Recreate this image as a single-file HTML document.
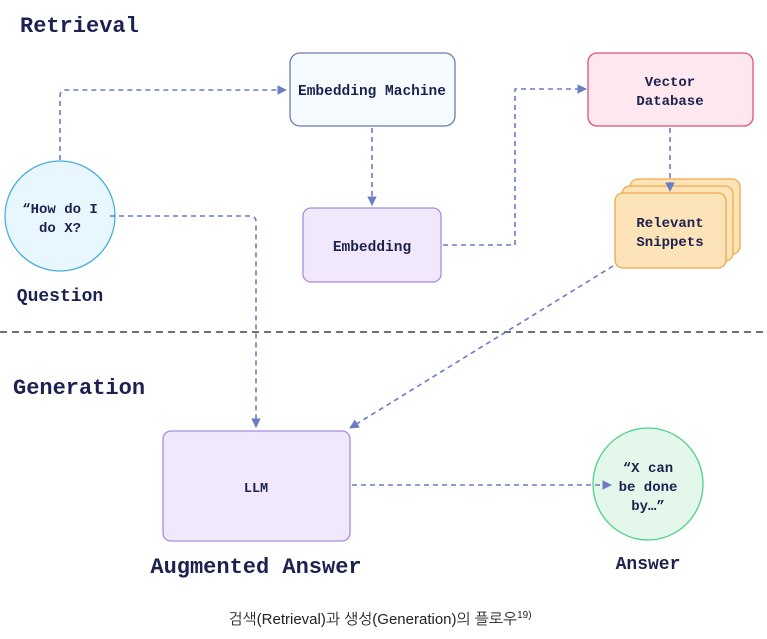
<!DOCTYPE html>
<html><head><meta charset="utf-8"><style>
html,body{margin:0;padding:0;background:#fff;}
svg{display:block;}
.m{font-family:"Liberation Mono","DejaVu Sans Mono",monospace;fill:#1c2150;font-weight:bold;}
</style></head><body>
<svg width="767" height="639" viewBox="0 0 767 639" xmlns="http://www.w3.org/2000/svg">
<defs><marker id="a" viewBox="0 0 10 10" refX="9" refY="5" markerWidth="6" markerHeight="6" markerUnits="strokeWidth" orient="auto"><path d="M0,0L10,5L0,10z" fill="#6a7cc4"/></marker></defs>
<text class="m" x="20" y="32" font-size="22">Retrieval</text>
<text class="m" x="13" y="394" font-size="22">Generation</text>
<line x1="0" y1="332" x2="767" y2="332" stroke="#444" stroke-width="1.5" stroke-dasharray="7,5"/>
<rect x="290" y="53" width="165" height="73" rx="10" fill="#f5fbff" stroke="#6a7ab0" stroke-width="1.3"/>
<text class="m" x="372" y="95" font-size="14.5" text-anchor="middle">Embedding Machine</text>
<rect x="303" y="208" width="138" height="74" rx="8" fill="#f1e8fc" stroke="#a78be0" stroke-width="1.3"/>
<text class="m" x="372" y="251" font-size="14.5" text-anchor="middle">Embedding</text>
<rect x="588" y="53" width="165" height="73" rx="9" fill="#fde8ef" stroke="#e0507a" stroke-width="1.3"/>
<text class="m" x="670" y="86" font-size="14" text-anchor="middle">Vector</text>
<text class="m" x="670" y="105" font-size="14" text-anchor="middle">Database</text>
<rect x="630" y="179" width="110" height="75" rx="8" fill="#fde3b8" stroke="#f0a84a" stroke-width="1.3"/>
<rect x="622" y="186" width="111" height="75" rx="8" fill="#fde3b8" stroke="#f0a84a" stroke-width="1.3"/>
<rect x="615" y="193" width="111" height="75" rx="8" fill="#fde3b8" stroke="#f0a84a" stroke-width="1.3"/>
<text class="m" x="670" y="227" font-size="14" text-anchor="middle">Relevant</text>
<text class="m" x="670" y="246" font-size="14" text-anchor="middle">Snippets</text>
<circle cx="60" cy="216" r="55" fill="#e8f6fd" stroke="#4aaee0" stroke-width="1.3"/>
<text class="m" x="60" y="213" font-size="14" text-anchor="middle">“How do I</text>
<text class="m" x="60" y="232" font-size="14" text-anchor="middle">do X?</text>
<text class="m" x="60" y="301" font-size="18" text-anchor="middle">Question</text>
<rect x="163" y="431" width="187" height="110" rx="8" fill="#f1e8fc" stroke="#a78be0" stroke-width="1.3"/>
<text class="m" x="256" y="492" font-size="13.5" text-anchor="middle">LLM</text>
<ellipse cx="648" cy="484" rx="55" ry="56" fill="#e3f8ea" stroke="#4fd08a" stroke-width="1.3"/>
<text class="m" x="648" y="472" font-size="14" text-anchor="middle">“X can</text>
<text class="m" x="648" y="491" font-size="14" text-anchor="middle">be done</text>
<text class="m" x="648" y="510" font-size="14" text-anchor="middle">by…”</text>
<g fill="none" stroke="#6a7cc4" stroke-width="1.6" stroke-dasharray="5,4" marker-end="url(#a)">
<path d="M60,160V96Q60,90 66,90H286"/>
<path d="M110,216H250Q256,216 256,222V427"/>
<path d="M372,128V205"/>
<path d="M443,245H515V89H586"/>
<path d="M670,128V191"/>
<path d="M613,266L350,428"/>
<path d="M352,485H611"/>
</g>
<text class="m" x="256" y="573" font-size="22" text-anchor="middle">Augmented Answer</text>
<text class="m" x="648" y="569" font-size="18" text-anchor="middle">Answer</text>
<text x="380" y="624" font-size="15" text-anchor="middle" fill="#222" font-family="'Liberation Sans','NanumGothic','Noto Sans CJK KR',sans-serif">검색(Retrieval)과 생성(Generation)의 플로우<tspan font-size="10" dy="-6">19)</tspan></text>
</svg>
</body></html>
